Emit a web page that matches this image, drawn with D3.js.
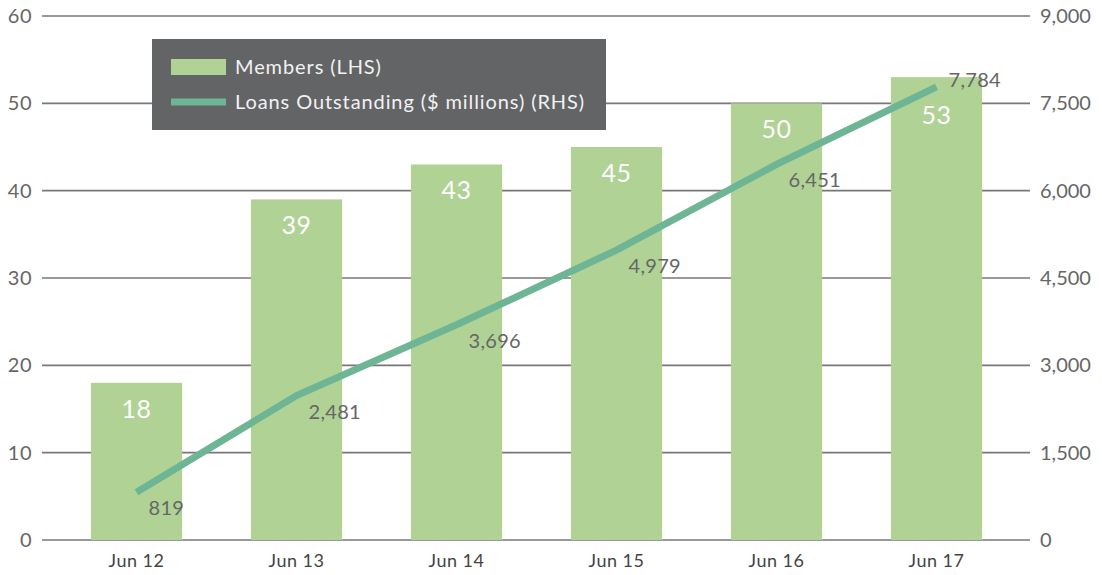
<!DOCTYPE html>
<html>
<head>
<meta charset="utf-8">
<script src="https://cdn.jsdelivr.net/npm/d3@7/dist/d3.min.js"></script>
<style>
  body { margin: 0; background: #fff; }
  svg { font-family: Lato, "Open Sans", sans-serif; }
</style>
</head>
<body>
<div id="chart"></div>
<script>
'use strict';

// Chart data
const periods = ['Jun 12', 'Jun 13', 'Jun 14', 'Jun 15', 'Jun 16', 'Jun 17'];
const members = [18, 39, 43, 45, 50, 53];
const loans = [819, 2481, 3696, 4979, 6451, 7784];
const leftTicks = [0, 10, 20, 30, 40, 50, 60];
const rightTicks = [0, 1500, 3000, 4500, 6000, 7500, 9000];

const palette = { bar: '#b0d295', line: '#6db594', grid: '#777777', text: '#666666', legend: '#636466' };

const width = 1102, height = 575;
const plot = { left: 56.5, right: 1016.5, top: 16, bottom: 540 };
const gridX = { x1: 42, x2: 1030 };

const svg = d3.select('#chart').append('svg')
    .attr('width', width)
    .attr('height', height);

const scaleX = d3.scaleBand()
    .domain(periods)
    .range([plot.left, plot.right])
    .paddingInner(0.43)
    .paddingOuter(0.215);

const scaleL = d3.scaleLinear().domain([0, 60]).range([plot.bottom, plot.top]);
const scaleR = d3.scaleLinear().domain([0, 9000]).range([plot.bottom, plot.top]);

// Gridlines
svg.append('g').selectAll('line')
    .data(leftTicks)
    .join('line')
    .attr('x1', gridX.x1)
    .attr('x2', gridX.x2)
    .attr('y1', d => scaleL(d))
    .attr('y2', d => scaleL(d))
    .attr('stroke', palette.grid)
    .attr('stroke-width', 1.6);

// Left axis
const axisL = svg.append('g')
    .attr('transform', `translate(32, 0)`)
    .call(d3.axisLeft(scaleL).tickValues(leftTicks).tickSize(0).tickPadding(0));
axisL.select('.domain').remove();
axisL.selectAll('text')
    .attr('fill', palette.text)
    .style('font-size', '20px')
    .style('letter-spacing', '0.5px')
    .style('font-family', 'Lato, sans-serif');

// Right axis
const axisR = svg.append('g')
    .attr('transform', `translate(1040, 0)`)
    .call(d3.axisRight(scaleR).tickValues(rightTicks).tickSize(0).tickPadding(0).tickFormat(d3.format(',')));
axisR.select('.domain').remove();
axisR.selectAll('text')
    .attr('fill', palette.text)
    .style('font-size', '20px')
    .style('font-family', 'Lato, sans-serif');

// X axis labels
const axisX = svg.append('g')
    .attr('transform', `translate(0, ${plot.bottom + 14})`)
    .call(d3.axisBottom(scaleX).tickSize(0).tickPadding(0));
axisX.select('.domain').remove();
axisX.selectAll('text')
    .attr('fill', '#444')
    .style('font-size', '18px')
    .style('letter-spacing', '0.5px')
    .style('font-family', 'Lato, sans-serif');

// Bars
const barData = periods.map((p, i) => ({ period: p, value: members[i], loan: loans[i] }));
svg.append('g').selectAll('rect')
    .data(barData)
    .join('rect')
    .attr('x', d => scaleX(d.period))
    .attr('y', d => scaleL(d.value))
    .attr('width', scaleX.bandwidth())
    .attr('height', d => scaleL(0) - scaleL(d.value))
    .attr('fill', palette.bar);

// Bar labels sit below the line when it runs near the top of the bar
svg.append('g').selectAll('text')
    .data(barData)
    .join('text')
    .attr('x', d => scaleX(d.period) + scaleX.bandwidth() / 2)
    .attr('y', d => {
        let top = scaleL(d.value);
        return top + (Math.abs(scaleR(d.loan) - top) < 20 ? 47 : 35);
    })
    .attr('text-anchor', 'middle')
    .attr('fill', '#fff')
    .style('font-size', '25px')
    .style('letter-spacing', '0.5px')
    .text(d => d.value);

// Loans line
const lineData = periods.map((p, i) => ({ period: p, value: loans[i] }));
const lineGen = d3.line()
    .x(d => scaleX(d.period) + scaleX.bandwidth() / 2)
    .y(d => scaleR(d.value));

svg.append('path')
    .datum(lineData)
    .attr('d', lineGen)
    .attr('fill', 'none')
    .attr('stroke', palette.line)
    .attr('stroke-width', 7);

const fmt = d3.format(',');
svg.append('g').selectAll('text')
    .data(lineData)
    .join('text')
    .attr('x', d => scaleX(d.period) + scaleX.bandwidth() / 2 + 12)
    .attr('y', (d, i) => scaleR(d.value) + (i === lineData.length - 1 ? 0 : 23))
    .attr('fill', palette.text)
    .style('font-size', '20px')
    .style('letter-spacing', '0.3px')
    .text(d => fmt(d.value));

// Legend
const legend = svg.append('g').attr('transform', 'translate(152, 39)');
legend.append('rect')
    .attr('width', 454)
    .attr('height', 91)
    .attr('fill', palette.legend);

const legendItems = [
    { label: 'Members (LHS)', type: 'bar' },
    { label: 'Loans Outstanding ($ millions) (RHS)', type: 'line' }
];

const item = legend.selectAll('g.item')
    .data(legendItems)
    .join('g')
    .attr('class', 'item')
    .attr('transform', (d, i) => `translate(19, ${28 + i * 35})`);

item.append('rect')
    .attr('x', 0)
    .attr('y', d => d.type === 'bar' ? -8 : -3.5)
    .attr('width', 55)
    .attr('height', d => d.type === 'bar' ? 16 : 7)
    .attr('fill', d => d.type === 'bar' ? palette.bar : palette.line);

item.append('text')
    .attr('x', 64)
    .attr('y', 7)
    .attr('fill', '#f2f2f2')
    .style('font-size', '20px')
    .style('letter-spacing', '0.9px')
    .text(d => d.label);
</script>
</body>
</html>
